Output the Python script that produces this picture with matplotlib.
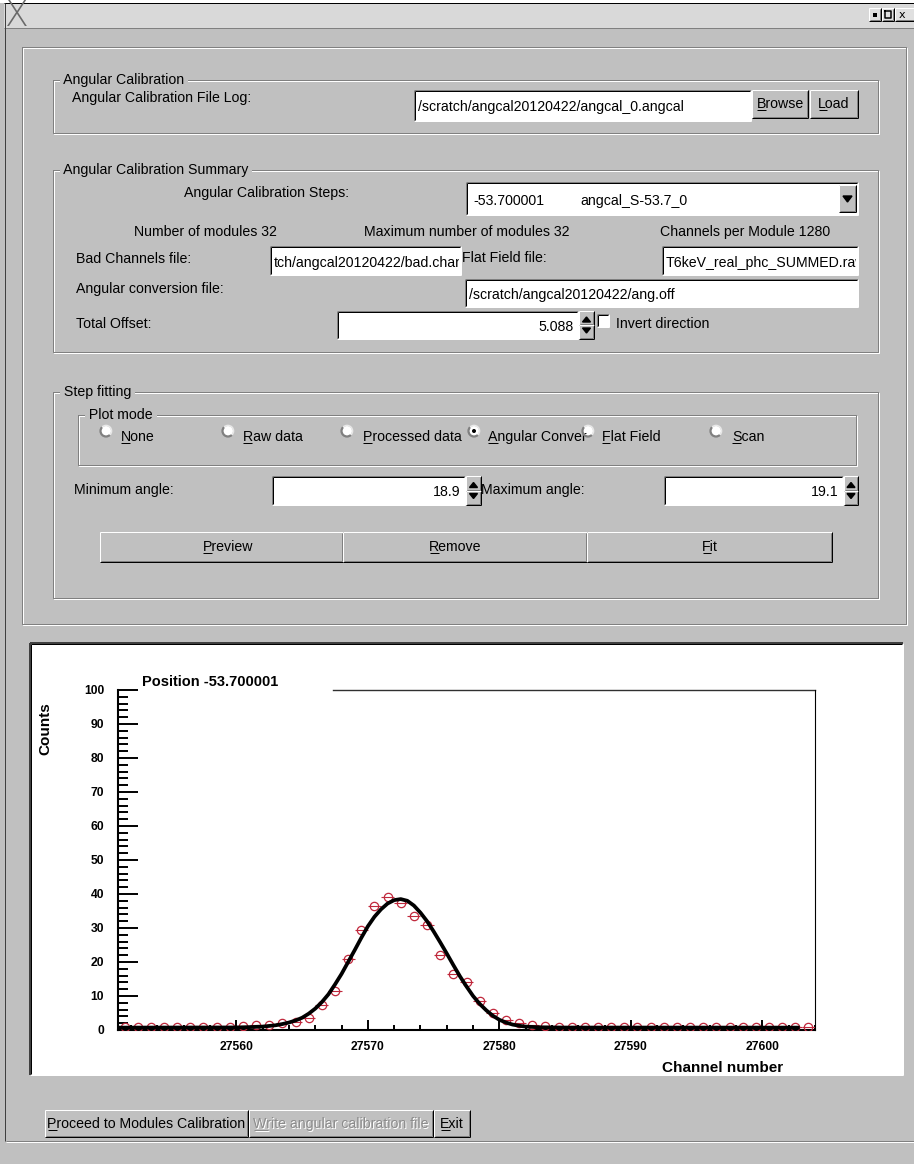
import numpy as np
import matplotlib
matplotlib.use('Agg')
import matplotlib.pyplot as plt
from matplotlib.patches import Rectangle, Circle, Arc, Polygon
from matplotlib.ticker import MultipleLocator
from matplotlib.textpath import TextPath
from matplotlib.font_manager import FontProperties
from matplotlib.transforms import Bbox

W, H = 914, 1164
GRAY = '#c0c0c0'
DARK = '#808080'
PT = 0.72  # points per pixel at dpi 100
GUI_FONT = ['Liberation Sans', 'DejaVu Sans']
FS = 10.2

# ---- data ----
bin_centres = np.arange(27551, 27604) + 0.5
counts = [0.8, 1.0, 1.0, 1.0, 1.0, 1.0, 1.0, 1.0, 1.0,
          1.3, 1.4, 1.4,
          2.0, 2.5, 3.5, 7.5, 11.5, 21.0, 29.5, 36.5, 39.0, 37.5,
          33.5, 31.0, 22.0, 16.5, 14.0, 8.5, 5.0, 3.0, 2.0, 1.5,
          1.2, 1.0, 0.9, 1.0, 0.9, 1.0, 0.9, 0.8, 1.0, 0.9, 0.8,
          0.9, 1.0, 0.8, 0.9, 0.9, 0.8, 1.0, 0.9, 0.8, 0.8]
fit_x = [27551.0, 27560.0, 27561.0, 27562.0, 27562.5, 27563.0, 27563.5, 27564.0,
         27564.5, 27565.0, 27565.5, 27566.0, 27566.5, 27567.0, 27567.5, 27568.0,
         27568.5, 27569.0, 27569.5, 27570.0, 27570.5, 27571.0, 27571.5, 27572.0,
         27572.5, 27573.0, 27573.5, 27574.0, 27574.5, 27575.0, 27575.5, 27576.0,
         27576.5, 27577.0, 27577.5, 27578.0, 27578.5, 27579.0, 27579.5, 27580.0,
         27580.5, 27581.0, 27581.5, 27582.0, 27582.5, 27583.0, 27585.0, 27602.7]
fit_y = [0.7, 0.75, 0.85, 1.0, 1.2, 1.4, 1.75, 2.2,
         2.8, 3.6, 4.8, 6.3, 8.2, 10.5, 13.4, 16.5,
         20.0, 23.5, 27.1, 30.5, 33.3, 35.5, 37.2, 38.2,
         38.5, 38.0, 36.6, 34.5, 32.0, 29.0, 25.8, 22.5,
         19.1, 15.8, 12.8, 10.0, 7.7, 5.8, 4.2, 3.0,
         2.2, 1.6, 1.25, 1.0, 0.9, 0.8, 0.72, 0.7]
x_ticks = [27560, 27570, 27580, 27590, 27600]
y_ticks = [0, 10, 20, 30, 40, 50, 60, 70, 80, 90, 100]
plot_title = 'Position -53.700001'

radio_labels = ['None', 'Raw data', 'Processed data', 'Angular Conver', 'Flat Field', 'Scan']
radio_x = [106, 228, 347, 474, 588, 716]
radio_text_x = [121, 243, 363, 488, 602, 732]
radio_selected = 3

fig = plt.figure(figsize=(W / 100, H / 100), dpi=100)
fig.patch.set_facecolor(GRAY)
bg = fig.add_axes([0, 0, 1, 1])
bg.set_xlim(0, W)
bg.set_ylim(H, 0)
bg.axis('off')


def line(x0, y0, x1, y1, c, lw=1, z=2):
    bg.plot([x0, x1], [y0, y1], color=c, lw=lw * PT, solid_capstyle='butt', zorder=z)


def box(x0, y0, x1, y1, c, lw=1, z=2):
    bg.plot([x0, x1, x1, x0, x0], [y0, y0, y1, y1, y0], color=c, lw=lw * PT, zorder=z)


def fill(x0, y0, x1, y1, c, z=1):
    bg.add_patch(Rectangle((x0, y0), x1 - x0, y1 - y0, facecolor=c, edgecolor='none', zorder=z))


def raised(x0, y0, x1, y1, face=GRAY):
    fill(x0, y0, x1, y1, face)
    line(x0, y0, x1, y0, 'white')
    line(x0, y0, x0, y1, 'white')
    line(x0, y1, x1, y1, 'black')
    line(x1, y0, x1, y1, 'black')
    line(x0 + 1, y1 - 1, x1 - 1, y1 - 1, DARK)
    line(x1 - 1, y0 + 1, x1 - 1, y1 - 1, DARK)


def sunken(x0, y0, x1, y1, face='white'):
    fill(x0, y0, x1, y1, face)
    line(x0, y0, x1, y0, DARK)
    line(x0, y0, x0, y1, DARK)
    line(x0 + 1, y0 + 1, x1 - 1, y0 + 1, 'black')
    line(x0 + 1, y0 + 1, x0 + 1, y1 - 1, 'black')
    line(x0, y1, x1, y1, 'white')
    line(x1, y0, x1, y1, 'white')


def etched(x0, y0, x1, y1, label=None):
    box(x0, y0, x1, y1, DARK)
    box(x0 + 1, y0 + 1, x1 + 1, y1 + 1, 'white', z=1.9)
    if label:
        bg.text(x0 + 7, y0, ' ' + label + ' ', fontsize=FS, family=GUI_FONT, va='center',
                ha='left', zorder=3,
                bbox=dict(facecolor=GRAY, edgecolor='none', pad=0))


def txt(x, y, s, ha='left', color='black', ul=False, clip=None, size=FS):
    t = bg.text(x, y, s, fontsize=size, family=GUI_FONT, ha=ha, va='center',
                color=color, zorder=4)
    if clip is not None:
        # background axes fills the figure, so pixel -> display is a flip in y
        x0, y0, x1, y1 = clip
        t.set_clip_box(Bbox.from_extents(x0, H - y1, x1, H - y0))
        t.set_clip_on(True)
    if ul:
        fp = FontProperties(family=GUI_FONT, size=size)
        full = TextPath((0, 0), s, size=size, prop=fp).get_extents().width / PT
        first = TextPath((0, 0), s[0], size=size, prop=fp).get_extents().width / PT
        if ha == 'center':
            xs = x - full / 2
        elif ha == 'right':
            xs = x - full
        else:
            xs = x
        line(xs, y + 6, xs + first + 1, y + 6, color, z=4)
    return t


def spin(x0, y0, x1, y1):
    ym = (y0 + y1) / 2
    raised(x0, y0, x1, ym)
    raised(x0, ym, x1, y1)
    cx = (x0 + x1) / 2
    bg.add_patch(Polygon([[cx - 4, ym - 3], [cx + 4, ym - 3], [cx, ym - 8]],
                         closed=True, color='black', zorder=4))
    bg.add_patch(Polygon([[cx - 4, ym + 3], [cx + 4, ym + 3], [cx, ym + 8]],
                         closed=True, color='black', zorder=4))


def entry(x0, y0, x1, y1, s, ha='left'):
    sunken(x0, y0, x1, y1)
    clip = (x0 + 2, y0 + 2, x1 - 2, y1 - 1)
    yc = (y0 + y1) / 2 + 2
    if ha == 'left':
        txt(x0 + 4, yc, s, clip=clip)
    else:
        txt(x1 - 4, yc, s, ha='right', clip=clip)


# ---- window decoration ----
fill(0, 0, W, 3, 'white')
fill(4, 3, W, 28, '#d9d9d9')
line(4, 3, W, 3, 'black')
line(4, 28, W, 28, DARK)
line(5, 3, 5, 1141, '#404040')
bg.text(17, 16, 'X', fontsize=25, family=['DejaVu Sans'], fontweight='light',
        color='#6a6a6a', ha='center', va='center', zorder=4)
for bx in (869, 882):
    raised(bx, 8, bx + 12, 21, face='#e0e0e0')
raised(895, 8, W + 2, 21, face='#e0e0e0')
fill(873, 13, 877, 17, 'black', z=5)
box(885, 11, 891, 18, 'black', lw=1.5, z=5)
bg.text(902, 15, 'x', fontsize=8, ha='center', va='center', zorder=5)
line(6, 1141, W, 1141, DARK)
line(6, 1142, W, 1142, 'white')

# ---- top panel ----
etched(22, 47, 906, 624)

etched(53, 80, 878, 133, 'Angular Calibration')
txt(72, 98, 'Angular Calibration File Log:')
entry(414, 90, 751, 121, '/scratch/angcal20120422/angcal_0.angcal')
raised(752, 90, 808, 118)
txt(780, 104, 'Browse', ha='center', ul=True)
raised(810, 90, 858, 118)
txt(834, 104, 'Load', ha='center', ul=True)

etched(53, 170, 878, 352, 'Angular Calibration Summary')
txt(267, 193, 'Angular Calibration Steps:', ha='center')
sunken(466, 182, 858, 215)
txt(473, 201, '-53.700001')
txt(580, 201, 'angcal_S-53.7_0')
raised(839, 185, 856, 212)
bg.add_patch(Polygon([[843, 196], [852, 196], [847.5, 202]], closed=True, color='black', zorder=4))
txt(205, 232, 'Number of modules 32', ha='center')
txt(467, 232, 'Maximum number of modules 32', ha='center')
txt(745, 232, 'Channels per Module 1280', ha='center')
txt(76, 259, 'Bad Channels file:')
entry(270, 246, 461, 275, 'tch/angcal20120422/bad.chan')
txt(462, 258, 'Flat Field file:')
entry(662, 246, 858, 275, 'T6keV_real_phc_SUMMED.raw')
txt(76, 289, 'Angular conversion file:')
entry(465, 279, 858, 307, '/scratch/angcal20120422/ang.off')
txt(76, 324, 'Total Offset:')
entry(337, 311, 578, 339, '5.088', ha='right')
spin(579, 311, 594, 339)
sunken(597, 314, 609, 327)
txt(616, 324, 'Invert direction')

etched(53, 392, 878, 598, 'Step fitting')
etched(78, 415, 856, 465, 'Plot mode')
for i, (lab, rx, tx) in enumerate(zip(radio_labels, radio_x, radio_text_x)):
    bg.add_patch(Circle((rx, 431), 5, facecolor='white', edgecolor='none', zorder=3))
    bg.add_patch(Arc((rx, 431), 11, 11, theta1=45, theta2=225, color=DARK, lw=1.6, zorder=4))
    bg.add_patch(Arc((rx, 431), 11, 11, theta1=225, theta2=405, color='#e8e8e8', lw=1.2, zorder=4))
    if i == radio_selected:
        bg.add_patch(Circle((rx, 431), 2, facecolor='black', edgecolor='none', zorder=5))
    txt(tx, 437, lab, ul=True)

txt(74, 490, 'Minimum angle:')
entry(272, 476, 465, 505, '18.9', ha='right')
spin(466, 476, 481, 505)
txt(481, 490, 'Maximum angle:')
entry(664, 476, 843, 505, '19.1', ha='right')
spin(844, 476, 858, 505)
raised(100, 532, 343, 562)
txt(228, 547, 'Preview', ha='center', ul=True)
raised(343, 532, 587, 562)
txt(455, 547, 'Remove', ha='center', ul=True)
raised(587, 532, 832, 562)
txt(710, 547, 'Fit', ha='center', ul=True)

# ---- canvas ----
sunken(30, 643, 903, 1075)
line(30, 643, 903, 643, '#404040', lw=2)
line(30, 643, 30, 1075, '#404040', lw=2)

# ---- bottom buttons ----
raised(45, 1110, 248, 1137)
txt(146, 1124, 'Proceed to Modules Calibration', ha='center', ul=True)
raised(249, 1110, 433, 1137)
txt(342, 1125, 'Write angular calibration file', ha='center', color='white', ul=True)
txt(341, 1124, 'Write angular calibration file', ha='center', color='#8c8c8c', ul=True)
raised(434, 1110, 470, 1137)
txt(452, 1124, 'Exit', ha='center', ul=True)

# ---- the histogram plot ----
ax = fig.add_axes([118 / W, 1 - 1030 / H, 697 / W, 340 / H])
ax.set_facecolor('none')
ax.set_xlim(27551, 27604)
ax.set_ylim(0, 100)
ax.errorbar(bin_centres, counts, xerr=0.5, fmt='o', ms=6, mfc='none', mec='#c0283c',
            mew=0.9, ecolor='#c0283c', elinewidth=0.8, capsize=0, zorder=3)
ax.plot(fit_x, fit_y, color='black', lw=2.7, zorder=4)

for s in ('left', 'bottom'):
    ax.spines[s].set_linewidth(1.5)
ax.spines['right'].set_linewidth(0.8)
ax.spines['top'].set_visible(False)
ax.plot([0.3085, 1], [1, 1], transform=ax.transAxes, color='#303030', lw=1.0, clip_on=False)

ax.set_xticks(x_ticks)
ax.set_yticks(y_ticks)
ax.xaxis.set_minor_locator(MultipleLocator(2))
ax.yaxis.set_minor_locator(MultipleLocator(2))
ax.tick_params(axis='x', which='major', direction='in', length=7.2, width=1.4, pad=8,
               labelsize=8.7)
ax.tick_params(axis='x', which='minor', direction='in', length=3.8, width=1.4)
ax.tick_params(axis='y', which='major', direction='in', length=14.4, width=1.4, pad=10,
               labelsize=8.7)
ax.tick_params(axis='y', which='minor', direction='in', length=7.2, width=1.4)
for lab in ax.get_xticklabels() + ax.get_yticklabels():
    lab.set_fontweight('bold')
    lab.set_family(GUI_FONT)

bg.text(142, 682, plot_title, fontsize=10.5, fontweight='bold', family=GUI_FONT,
        ha='left', va='center', zorder=5)
bg.text(45, 702, 'Counts', fontsize=11, fontweight='bold', family=GUI_FONT,
        rotation=90, ha='center', va='top', zorder=5)
bg.text(783, 1068, 'Channel number', fontsize=11, fontweight='bold', family=GUI_FONT,
        ha='right', va='center', zorder=5)

fig.savefig('out.png', dpi=100, facecolor=GRAY)
